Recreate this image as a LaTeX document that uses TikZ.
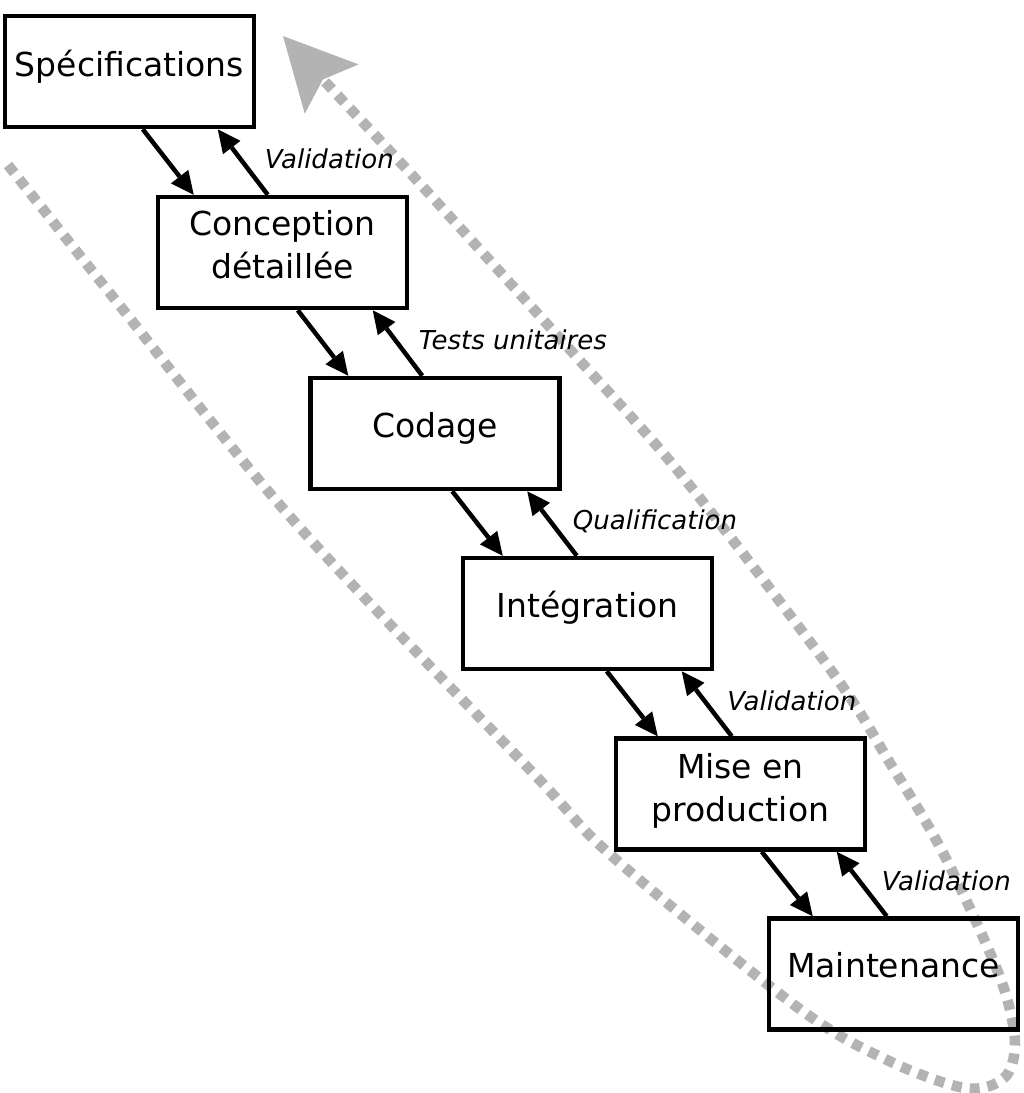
\documentclass[tikz,border=0pt]{standalone}
\usepackage{fontspec}
\setmainfont{DejaVu Sans}
\usetikzlibrary{arrows.meta,calc}
\definecolor{loopgray}{RGB}{179,179,179}
\begin{document}
\begin{tikzpicture}[x=1pt,y=-1pt,
  box/.style={draw, line width=4.5pt, minimum width=249pt, minimum height=111pt, inner sep=0pt},
  boxtext/.style={font=\fontsize{33}{43}\selectfont, anchor=base, align=center, inner sep=0pt},
  flow/.style={line width=4.5pt, -{Triangle[length=23pt,width=22pt,line width=0pt]}},
  lbl/.style={font=\fontsize{26}{30}\selectfont\itshape, anchor=base west, inner sep=0pt},
  loopline/.style={draw=loopgray, line width=10.5pt, dash pattern=on 10pt off 8pt,
    -{Stealth[length=72pt,width=73pt,inset=13pt,line width=0pt]}}
]
\useasboundingbox (0,0) rectangle (1024,1093);

% gray loop
\draw[loopline] plot[smooth, tension=0.55] coordinates {(8,165) (113,297) (293,520) (533,773) (613,857) (797,1007) (887,1060) (965,1088) (1004,1078) (1015,1045) (1006,995) (983,937) (940,847) (890,763) (833,673) (683,477) (573,353) (423,187) (330,87) (283,36)};

% boxes
\node[box] (spec)  at (129.5,71.5) {};
\node[box] (conc)  at (282.5,252.5) {};
\node[box] (cod)   at (435,433.5) {};
\node[box] (integ) at (587.5,613.5) {};
\node[box] (mep)   at (740.5,794) {};
\node[box] (maint) at (893.5,974) {};

% box texts
\node[boxtext] (spect)  at ($(spec.north)+(0,63)$)  {Spécifications};
\node[boxtext] (conct)  at ($(conc.north)+(0,84)$)  {Conception\\détaillée};
\node[boxtext] (codt)   at ($(cod.north)+(0,62)$)   {Codage};
\node[boxtext] (integt) at ($(integ.north)+(0,62)$) {Intégration};
\node[boxtext] (mept)   at ($(mep.north)+(0,85)$)   {Mise en\\production};
\node[boxtext] (maintt) at ($(maint.north)+(0,61)$) {Maintenance};

% arrows and labels
\foreach \a/\b/\l [count=\k from 0] in {spec/conc/Validation, conc/cod/Tests unitaires, cod/integ/Qualification, integ/mep/Validation, mep/maint/Validation}{
  \draw[flow] ($(\a.south west)+(140+2*\k,0)$) -- ($(\b.north west)+(38+2*\k,0)$);
  \draw[flow] ($(\b.north west)+(112+2*\k,0)$) -- ($(\a.south west)+(215+2*\k,0)$);
  \node[lbl] (lab\k) at ($(\b.north west)+(109+1.5*\k,-26)$) {\l};
}
\end{tikzpicture}
\end{document}
